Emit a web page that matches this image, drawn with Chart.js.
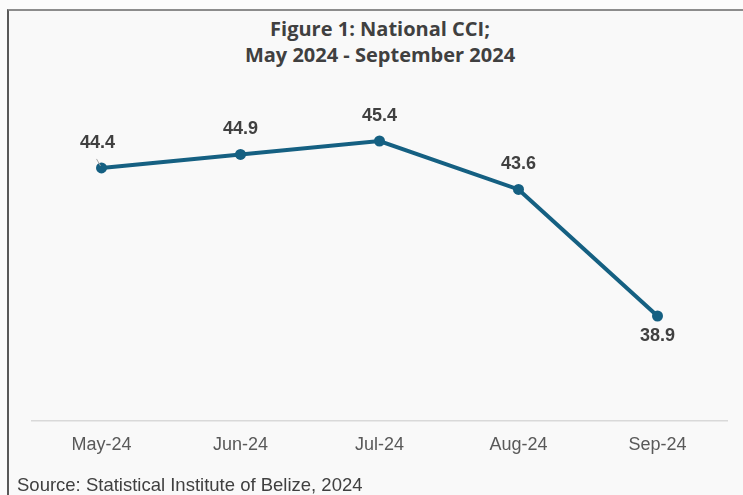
<!DOCTYPE html>
<html>
<head>
<meta charset="utf-8">
<script src="https://cdn.jsdelivr.net/npm/chart.js@4.4.1/dist/chart.umd.min.js"></script>
<style>
  html, body { margin: 0; padding: 0; width: 743px; height: 495px; overflow: hidden; background: #fbfbfb; }
  #frame { position: absolute; left: 7px; top: 9px; width: 800px; height: 520px;
           border-top: 2px solid #8c8c8c; border-left: 2px solid #595959; background: #f9f9f9; }
  #title { position: absolute; left: 0; top: 16px; width: 760px; text-align: center;
           font: 700 20px 'Open Sans', sans-serif; line-height: 26px; color: #404040; }
  #chartBox { position: absolute; left: 0; top: 0; width: 743px; height: 495px; }
  #source { position: absolute; left: 17px; top: 475px; font: 18.5px 'Liberation Sans', Arial, sans-serif;
            line-height: 20px; color: #404040; white-space: nowrap; }
</style>
</head>
<body>
<div id="frame"></div>
<div id="title">Figure 1: National CCI;<br>May 2024 - September 2024</div>
<div id="chartBox"><canvas id="cciChart"></canvas></div>
<div id="source">Source: Statistical Institute of Belize, 2024</div>

<script>
// Data
const MONTHS = ['May-24', 'Jun-24', 'Jul-24', 'Aug-24', 'Sep-24'];
const CCI    = [44.4, 44.9, 45.4, 43.6, 38.9];
const Y_MIN = 35;
const Y_MAX = 48;

const LINE_COLOR = '#156082';
const TEXT_DARK  = '#404040';

// Value labels above / below each point
const pointLabels = {
  id: 'pointLabels',
  afterDatasetsDraw(chart, args, opts) {
    const { ctx } = chart;
    const meta = chart.getDatasetMeta(0);
    ctx.save();
    ctx.font = opts.font;
    ctx.fillStyle = opts.color;
    ctx.textAlign = 'center';
    ctx.textBaseline = 'middle';
    meta.data.forEach((pt, i) => {
      const below = opts.below.includes(i);
      const dx = opts.shiftX[i] || 0;
      const y = below ? pt.y + opts.gapBelow : pt.y - opts.gapAbove;
      ctx.fillText(CCI[i].toFixed(1), pt.x + dx, y);
      // small leader line where the label was nudged
      if (dx) {
        ctx.strokeStyle = '#a6a6a6';
        ctx.lineWidth = 1;
        ctx.beginPath();
        ctx.moveTo(pt.x - 5, pt.y - 9);
        ctx.lineTo(pt.x - 1, pt.y - 2);
        ctx.stroke();
      }
    });
    ctx.restore();
  }
};

new Chart(document.getElementById('cciChart'), {
  type: 'line',
  data: {
    labels: MONTHS,
    datasets: [{
      data: CCI,
      borderColor: LINE_COLOR,
      backgroundColor: LINE_COLOR,
      borderWidth: 4,
      pointRadius: 5.5,
      pointBackgroundColor: LINE_COLOR,
      pointBorderWidth: 0,
      tension: 0,
    }]
  },
  options: {
    responsive: true,
    maintainAspectRatio: false,
    animation: false,
    layout: { padding: { left: 32, right: 16, top: 71, bottom: 34 } },
    plugins: {
      legend: { display: false },
      tooltip: { enabled: false },
      pointLabels: {
        font: "bold 18px 'Liberation Sans', Arial, sans-serif",
        color: TEXT_DARK,
        gapAbove: 25,
        gapBelow: 20,
        below: [4],
        shiftX: [-4, 0, 0, 0, 0]
      }
    },
    scales: {
      x: {
        offset: true,
        grid: { display: false, drawTicks: false },
        border: { display: true, color: '#d9d9d9', width: 1.5 },
        ticks: {
          color: '#595959',
          padding: 13,
          font: { family: "'Liberation Sans', Arial, sans-serif", size: 18 }
        },
        afterFit(scale) { scale.height = 40; }
      },
      y: { display: false, min: Y_MIN, max: Y_MAX }
    }
  },
  plugins: [pointLabels]
});
</script>
</body>
</html>
